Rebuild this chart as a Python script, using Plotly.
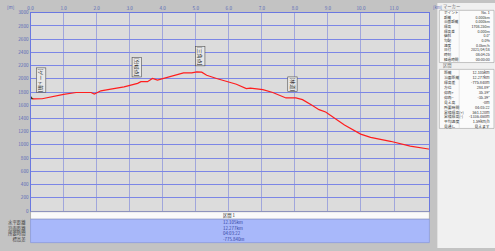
import plotly.graph_objects as go
import numpy as np

# ---------------- data ----------------
dist_km = [0.0, 0.10, 0.35, 0.67, 1.00, 1.38, 1.83, 1.93, 2.13, 2.43, 2.83, 3.24, 3.34,
           3.54, 3.69, 3.84, 3.99, 4.19, 4.33, 4.63, 4.88, 5.03, 5.18, 5.33, 5.63, 5.98,
           6.23, 6.53, 6.65, 6.78, 7.03, 7.33, 7.58, 7.73, 8.03, 8.23, 8.53, 8.73, 8.93,
           9.08, 9.50, 9.99, 10.29, 10.89, 11.49, 12.105]
elev_m = [1708, 1695, 1698, 1734, 1763, 1793, 1793, 1769, 1818, 1843, 1877, 1931, 1956,
          1956, 2005, 1980, 2000, 2025, 2040, 2089, 2089, 2104, 2100, 2054, 2005, 1951,
          1917, 1852, 1860, 1852, 1837, 1793, 1744, 1710, 1710, 1685, 1596, 1533, 1498,
          1448, 1300, 1163, 1113, 1054, 980, 932]

wp_km = [0.31, 3.23, 5.13, 7.94]
wp_names = ["[ゲート前]", "[分岐点]", "[三角点]", "[林道]"]

x_ticks = [0, 1, 2, 3, 4, 5, 6, 7, 8, 9, 10, 11]
y_ticks = list(range(0, 3001, 200))

marker_labels = ["ポイント", "距離", "沿面距離", "標高", "標高差", "傾斜", "勾配", "速度",
                 "日付", "時刻", "経過時間"]
marker_values = ["No. 1", "0.000km", "0.000km", "1708.250m", "0.000m", "0.0°", "0.0%",
                 "0.0km/h", "2021/04/18", "08:04:25", "00:00:00"]
section_labels = ["距離", "沿面距離", "標高差", "方位", "仰角+", "仰角−", "見え高", "所要時間",
                  "累積標高(+)", "累積標高(-)", "平均速度", "見通し"]
section_values = ["12.105km", "12.277km", "-775.840m", "284.89°", "35.39°", "-35.39°", "-0m",
                  "04:03:22", "561.120m", "-1336.460m", "1.59km/h", "見えます"]
bottom_labels = ["水平距離", "沿面距離", "所要時間", "標高差"]
bottom_values = ["12.105km", "12.277km", "04:03:22", "-775.840m"]

# ---------------- layout helpers ----------------
W, H = 495, 251
def px(x):
    return x / W
def py(y):
    return 1 - y / H

FONT = "Noto Sans CJK JP"
BLUE_TXT = "#5a6ab8"

fig = go.Figure()
fig.add_trace(go.Scatter(x=dist_km, y=elev_m, mode="lines",
                         line=dict(color="#ff1e1e", width=1.2), hoverinfo="skip",
                         showlegend=False))
fig.add_trace(go.Scatter(x=dist_km[:1], y=elev_m[:1], mode="markers",
                         marker=dict(symbol="triangle-up", size=5, color="#404020"),
                         showlegend=False, hoverinfo="skip"))

shapes = []
annotations = []

def column(lines, x, y_center, size, anchor, color):
    annotations.append(dict(xref="paper", yref="paper", x=px(x), y=py(y_center),
                            text="<br>".join(lines), showarrow=False,
                            xanchor=anchor, yanchor="middle", align=anchor,
                            font=dict(family=FONT, size=size, color=color)))

# outer right panel
shapes.append(dict(type="rect", xref="paper", yref="paper", x0=px(437), x1=1, y0=0, y1=1,
                   fillcolor="#f0f0f0", line=dict(width=0), layer="below"))
# tables
shapes.append(dict(type="rect", xref="paper", yref="paper", x0=px(439), x1=px(494),
                   y0=py(61), y1=py(7.5), fillcolor="#fbfbfb",
                   line=dict(color="#a0a0a0", width=0.6), layer="below"))
shapes.append(dict(type="rect", xref="paper", yref="paper", x0=px(439), x1=px(494),
                   y0=py(128.5), y1=py(68), fillcolor="#fbfbfb",
                   line=dict(color="#a0a0a0", width=0.6), layer="below"))
annotations.append(dict(xref="paper", yref="paper", x=px(441), y=py(3.2), text="マーカー",
                        showarrow=False, xanchor="left", yanchor="middle",
                        font=dict(family=FONT, size=4.3, color="#707070")))
annotations.append(dict(xref="paper", yref="paper", x=px(441), y=py(64.5), text="区間",
                        showarrow=False, xanchor="left", yanchor="middle",
                        font=dict(family=FONT, size=4.3, color="#707070")))

column(marker_labels, 441.5, 34, 3.6, "left", "#303030")
column(marker_values, 492, 34, 3.6, "right", "#303030")
column(section_labels, 441.5, 98.5, 3.8, "left", "#303030")
column(section_values, 492, 98.5, 3.8, "right", "#303030")

shapes.append(dict(type="line", xref="paper", yref="paper", x0=px(459), x1=px(459),
                   y0=py(61), y1=py(7.5), line=dict(color="#d0d0d0", width=0.5)))
shapes.append(dict(type="line", xref="paper", yref="paper", x0=px(459), x1=px(459),
                   y0=py(128.5), y1=py(68), line=dict(color="#d0d0d0", width=0.5)))

# bottom section panel
shapes.append(dict(type="rect", xref="paper", yref="paper", x0=px(27.7), x1=px(429),
                   y0=py(221.5), y1=py(213.8), fillcolor="#fafafa",
                   line=dict(color="#909090", width=0.6)))
shapes.append(dict(type="rect", xref="paper", yref="paper", x0=px(27.7), x1=px(429),
                   y0=py(245.5), y1=py(221.5), fillcolor="#a8b8fa",
                   line=dict(color="#8090d8", width=0.6)))
annotations.append(dict(xref="paper", yref="paper", x=px(228), y=py(217.6), text="区間 1",
                        showarrow=False, xanchor="center", yanchor="middle",
                        font=dict(family=FONT, size=4.3, color="#303030")))
column(bottom_labels, 25, 233.5, 4.4, "right", "#404040")
column(bottom_values, 219, 233.5, 4.4, "left", "#3040a0")

# unit labels
annotations.append(dict(xref="paper", yref="paper", x=px(2), y=py(4), text="[m]",
                        showarrow=False, xanchor="left", yanchor="middle",
                        font=dict(family=FONT, size=4.5, color=BLUE_TXT)))
annotations.append(dict(xref="paper", yref="paper", x=px(430.5), y=py(4), text="[km]",
                        showarrow=False, xanchor="left", yanchor="middle",
                        font=dict(family=FONT, size=4.2, color=BLUE_TXT)))

# waypoint labels (vertical)
for km, name in zip(wp_km, wp_names):
    e = float(np.interp(km, dist_km, elev_m))
    annotations.append(dict(x=km, y=e + 90, xref="x", yref="y", text=name, textangle=90,
                            showarrow=False, xanchor="center", yanchor="bottom",
                            bgcolor="#e8e8e8", bordercolor="#505050", borderwidth=0.6,
                            borderpad=0.3,
                            font=dict(family=FONT, size=5, color="#202020")))

fig.update_layout(
    width=W, height=H, autosize=False,
    margin=dict(l=0, r=0, t=0, b=0),
    paper_bgcolor="#c3c3c3", plot_bgcolor="#dcdcdc",
    showlegend=False,
    xaxis=dict(domain=[px(27.7), px(429)], range=[0, 12.07], side="top",
               tickvals=x_ticks, ticktext=[f"{v:.1f}" for v in x_ticks],
               tickfont=dict(family=FONT, size=4.6, color=BLUE_TXT), ticks="", ticklen=0,
               showgrid=True, gridcolor="#a0a6dc", gridwidth=0.8, zeroline=False,
               showline=True, linecolor="#6a78e0", linewidth=1.2, mirror=True),
    yaxis=dict(domain=[py(213), py(10)], range=[0, 3000], tickvals=y_ticks,
               tickfont=dict(family=FONT, size=4.6, color=BLUE_TXT), ticks="",
               showgrid=True, gridcolor="#7b86e6", gridwidth=1, zeroline=False,
               showline=True, linecolor="#6a78e0", linewidth=1.2, mirror=True),
    shapes=shapes, annotations=annotations,
)

fig.write_html("out.html", config=dict(displayModeBar=False))
